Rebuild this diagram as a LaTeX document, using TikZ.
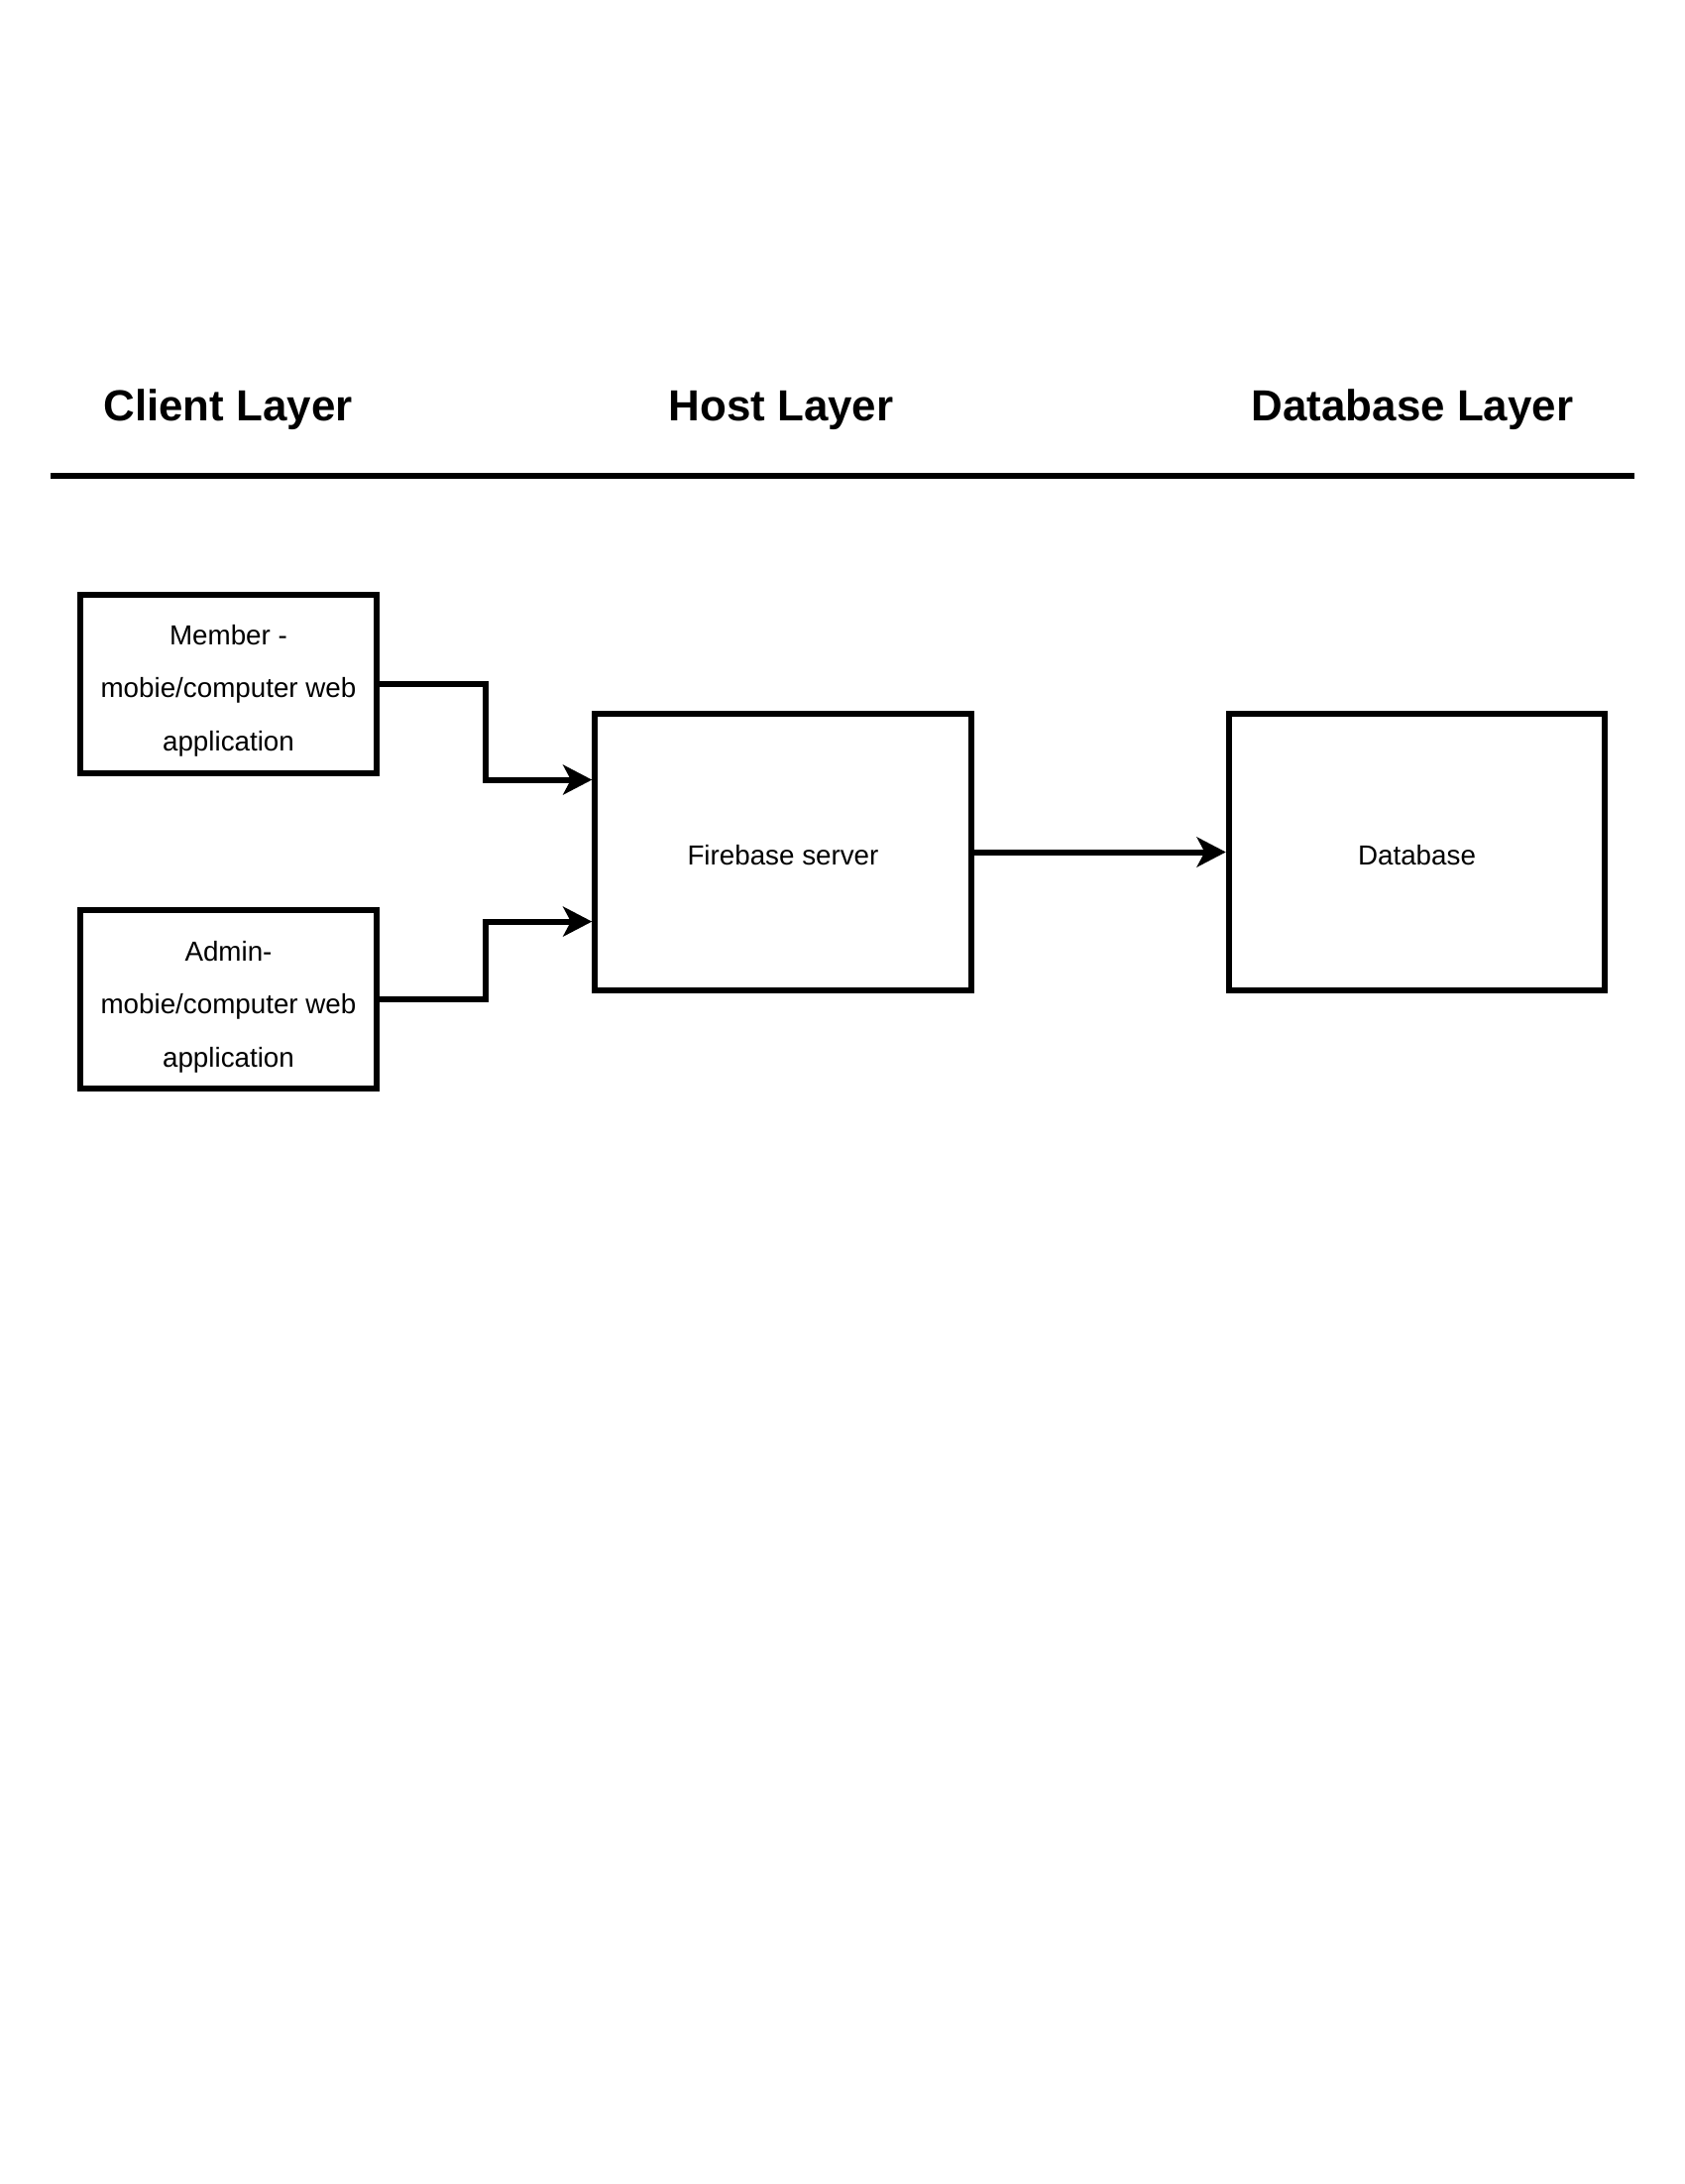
\documentclass[tikz,border=0pt]{standalone}
\usepackage{fontspec}
\setmainfont{Liberation Sans}
\usetikzlibrary{arrows.meta,calc}
\begin{document}
\begin{tikzpicture}[x=0.36pt,y=-0.36pt,
  box/.style={draw=black,line width=2.16pt,fill=white,inner sep=0pt},
  small/.style={box,minimum width=107.6pt,minimum height=64.5pt},
  big/.style={box,minimum width=136.6pt,minimum height=100.4pt},
  txt/.style={align=center,inner sep=0pt,font=\fontsize{10}{19.3}\selectfont},
  title/.style={font=\fontsize{15.8}{19}\selectfont\bfseries,inner sep=0pt,anchor=base},
  conn/.style={line width=2.16pt,-{Stealth[length=10.5pt,width=10.8pt,inset=2.8pt]}}
]
\useasboundingbox (0,0) rectangle (1700,2203);
\fill[white] (0,0) rectangle (1700,2203);
\node[title] (t1) at (230,424) {Client Layer};
\node[title] (t2) at (788,424) {Host Layer};
\node[title] (t3) at (1425,424) {Database Layer};
\coordinate (l1) at (51,480);
\coordinate (l2) at (1649,480);
\draw[line width=2.16pt] (l1) -- (l2);
\node[small] (m) at (230.5,690) {};
\node[small] (a) at (230.5,1008) {};
\node[big] (f) at (790,859.5) {};
\node[big] (d) at (1429.5,859.5) {};
\node[txt] (mt) at ([yshift=-2.4pt]m.center) {Member -\\mobie/computer web\\application};
\node[txt] (at) at ([yshift=-2.7pt]a.center) {Admin-\\mobie/computer web\\application};
\node[txt] (ft) at ([yshift=-1.25pt]f.center) {Firebase server};
\node[txt] (dt) at ([yshift=-1.25pt]d.center) {Database};
\coordinate (bendx) at (490,0);
\draw[conn] (m.east) -- (m.east -| bendx) |- ($(f.north west)!0.244!(f.south west)$);
\draw[conn] (a.east) -- (a.east -| bendx) |- ($(f.north west)!0.746!(f.south west)$);
\draw[conn] (f.east) -- (d.west);
\end{tikzpicture}
\end{document}
